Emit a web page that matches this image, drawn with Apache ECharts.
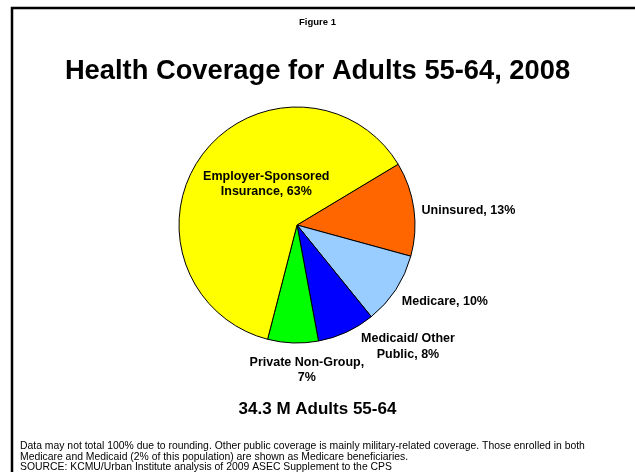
<!DOCTYPE html>
<html>
<head>
<meta charset="utf-8">
<script src="https://cdn.jsdelivr.net/npm/echarts@6/dist/echarts.min.js"></script>
<style>
  html, body { margin: 0; padding: 0; background: #fff; }
  #chart { width: 635px; height: 472px; }
</style>
</head>
<body>
<div id="chart"></div>
<script>
// Coverage categories, listed clockwise from the uninsured slice
var categories = [
  'Uninsured, 13%',
  'Medicare, 10%',
  'Medicaid/ Other\nPublic, 8%',
  'Private Non-Group,\n7%',
  'Employer-Sponsored\nInsurance, 63%'
];
// Share of adults 55-64 (percent)
var shares = [13, 10, 8, 7, 63];
var sliceColors = ['#FF6600', '#99CCFF', '#0000FF', '#00FF00', '#FFFF00'];
// Label nudges away from the default inside anchor, in pixels
var labelShift = [[110, -6], [96, 43], [85, 65], [12, 83], [19, -4]];

var FONT = '"Liberation Sans", Arial, sans-serif';

var chart = echarts.init(document.getElementById('chart'), null, { renderer: 'canvas' });

chart.setOption({
  backgroundColor: '#ffffff',
  animation: false,
  title: [
    {
      text: 'Figure 1',
      left: 'center',
      top: 12,
      textStyle: { fontFamily: FONT, fontSize: 9.5, fontWeight: 'bold', color: '#000' }
    },
    {
      text: 'Health Coverage for Adults 55-64, 2008',
      left: 'center',
      top: 53,
      textStyle: { fontFamily: FONT, fontSize: 27.3, fontWeight: 'bold', color: '#000' }
    },
    {
      text: '34.3 M Adults 55-64',
      left: 'center',
      top: 396,
      textStyle: { fontFamily: FONT, fontSize: 17, fontWeight: 'bold', color: '#000' }
    }
  ],
  graphic: [
    {
      type: 'rect',
      shape: { x: 12, y: 8, width: 700, height: 600 },
      style: { fill: null, stroke: '#000', lineWidth: 2.5 }
    },
    {
      type: 'text',
      left: 20,
      top: 441,
      style: {
        text: 'Data may not total 100% due to rounding. Other public coverage is mainly military-related coverage. Those enrolled in both\n' +
              'Medicare and Medicaid (2% of this population) are shown as Medicare beneficiaries.\n' +
              'SOURCE: KCMU/Urban Institute analysis of 2009 ASEC Supplement to the CPS',
        font: '10.4px ' + FONT,
        fill: '#000',
        lineHeight: 10.6
      }
    }
  ],
  series: [
    {
      type: 'pie',
      center: [297, 225],
      radius: 118,
      startAngle: 31,
      clockwise: true,
      avoidLabelOverlap: false,
      label: {
        show: true,
        position: 'inside',
        formatter: '{b}',
        fontFamily: FONT,
        fontSize: 12.5,
        fontWeight: 'bold',
        color: '#000',
        lineHeight: 15.5,
        align: 'center'
      },
      labelLine: { show: false },
      labelLayout: function (params) {
        var s = labelShift[params.dataIndex];
        return { dx: s[0], dy: s[1] };
      },
      itemStyle: { borderColor: '#000', borderWidth: 1 },
      emphasis: { disabled: true },
      data: categories.map(function (name, i) {
        return { name: name, value: shares[i], itemStyle: { color: sliceColors[i] } };
      })
    }
  ]
});
</script>
</body>
</html>
